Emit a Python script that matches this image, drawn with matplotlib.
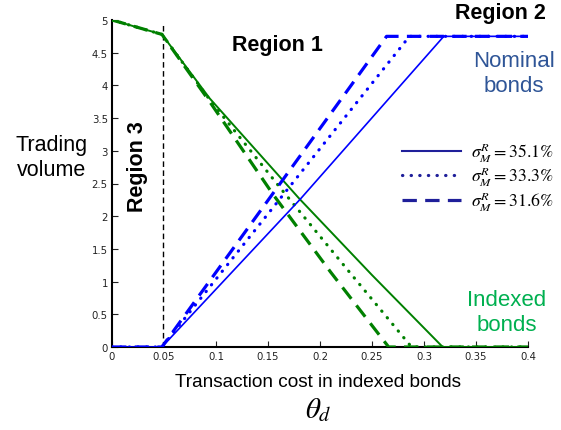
import matplotlib
matplotlib.use("Agg")
import matplotlib.pyplot as plt
from matplotlib.lines import Line2D

plt.rcParams['mathtext.fontset'] = 'stix'

W, H = 561, 431

# Trading volume in nominal bonds (blue), one curve per volatility level
nom_x_351 = [0.0, 0.048, 0.181, 0.319, 0.4]
nom_y_351 = [0.0, 0.0, 2.26, 4.75, 4.75]
nom_x_333 = [0.0, 0.048, 0.286, 0.4]
nom_y_333 = [0.0, 0.0, 4.75, 4.75]
nom_x_316 = [0.0, 0.048, 0.264, 0.4]
nom_y_316 = [0.0, 0.0, 4.75, 4.75]

# Trading volume in indexed bonds (green)
idx_x_351 = [0.0, 0.048, 0.094, 0.18, 0.25, 0.318, 0.4]
idx_y_351 = [5.0, 4.78, 3.80, 2.27, 1.10, 0.0, 0.0]
idx_x_333 = [0.0, 0.048, 0.094, 0.165, 0.226, 0.288, 0.4]
idx_y_333 = [5.0, 4.78, 3.78, 2.37, 1.19, 0.0, 0.0]
idx_x_316 = [0.0, 0.048, 0.094, 0.155, 0.21, 0.266, 0.4]
idx_y_316 = [5.0, 4.78, 3.75, 2.33, 1.15, 0.0, 0.0]

region3_edge = 0.0487

legend_labels = [r'$\sigma_M^R=35.1\%$', r'$\sigma_M^R=33.3\%$', r'$\sigma_M^R=31.6\%$']
x_ticks = [0, 0.05, 0.1, 0.15, 0.2, 0.25, 0.3, 0.35, 0.4]
x_tick_labels = ['0', '0.05', '0.1', '0.15', '0.2', '0.25', '0.3', '0.35', '0.4']
y_ticks = [0, 0.5, 1, 1.5, 2, 2.5, 3, 3.5, 4, 4.5, 5]
y_tick_labels = ['0', '0.5', '1', '1.5', '2', '2.5', '3', '3.5', '4', '4.5', '5']

BLUE = '#0000ff'
GREEN = '#008000'
NAVY = '#1f1f9a'
DOT = (0, (0.1, 2.6))
DASH = (0, (4.5, 2.6))

fig = plt.figure(figsize=(W / 100, H / 100), dpi=100)
ax = fig.add_axes([112 / W, 1 - 348 / H, (528 - 112) / W, (348 - 21) / H])


def fx(px):
    return px / W


def fy(py):
    return 1 - py / H


ax.plot(idx_x_351, idx_y_351, color=GREEN, lw=1.4, zorder=3)
ax.plot(idx_x_333, idx_y_333, color=GREEN, lw=2.3, linestyle=DOT,
        dash_capstyle='round', zorder=3)
ax.plot(idx_x_316, idx_y_316, color=GREEN, lw=2.3, linestyle=DASH, zorder=3)

ax.plot(nom_x_351, nom_y_351, color=BLUE, lw=1.2, zorder=4)
ax.plot(nom_x_333, nom_y_333, color=BLUE, lw=2.3, linestyle=DOT,
        dash_capstyle='round', zorder=4)
ax.plot(nom_x_316, nom_y_316, color=BLUE, lw=2.3, linestyle=DASH, zorder=4)

ax.plot([region3_edge, region3_edge], [0, 4.95], color='black', lw=1.0,
        linestyle=(0, (4, 2.5)), zorder=2)

ax.set_xlim(0, 0.4)
ax.set_ylim(0, 5)
ax.set_xticks(x_ticks)
ax.set_xticklabels(x_tick_labels)
ax.set_yticks(y_ticks)
ax.set_yticklabels(y_tick_labels)
ax.tick_params(direction='in', length=4, width=0.8, labelsize=7.3, pad=3,
               colors='#222222')
for s in ('top', 'right'):
    ax.spines[s].set_visible(False)
for s in ('left', 'bottom'):
    ax.spines[s].set_linewidth(1.5)
    ax.spines[s].set_color('black')
ax.patch.set_alpha(0)

handles = [Line2D([], [], color=NAVY, lw=1.5),
           Line2D([], [], color=NAVY, lw=2.3, linestyle=DOT, dash_capstyle='round'),
           Line2D([], [], color=NAVY, lw=2.3, linestyle=DASH)]
leg = fig.legend(handles, legend_labels, loc='upper left',
                 bbox_to_anchor=(fx(402), fy(141)), frameon=False,
                 prop={'size': 12.8}, handlelength=3.3, handletextpad=0.6,
                 labelspacing=0.05, borderpad=0, borderaxespad=0)

sans = 'Liberation Sans'
fig.text(fx(52), fy(158), 'Trading\nvolume', ha='center', va='center',
         fontsize=15.5, family=sans, linespacing=1.25)
fig.text(fx(137), fy(167), 'Region 3', ha='center', va='center', rotation=90,
         fontsize=15.5, fontweight='bold', family=sans)
fig.text(fx(277), fy(45), 'Region 1', ha='center', va='center',
         fontsize=15.5, fontweight='bold', family=sans)
fig.text(fx(500), fy(13), 'Region 2', ha='center', va='center',
         fontsize=15.5, fontweight='bold', family=sans)
fig.text(fx(514), fy(74), 'Nominal\nbonds', ha='center', va='center',
         fontsize=16, family=sans, color='#2f5597', linespacing=1.25)
fig.text(fx(507), fy(313), 'Indexed\nbonds', ha='center', va='center',
         fontsize=16, family=sans, color='#00b050', linespacing=1.3)
fig.text(fx(318), fy(383), 'Transaction cost in indexed bonds', ha='center',
         va='center', fontsize=13.7, family=sans)
fig.text(fx(318), fy(410), r'$\theta_d$', ha='center', va='center',
         fontsize=21)

fig.savefig('out.png', dpi=100)
